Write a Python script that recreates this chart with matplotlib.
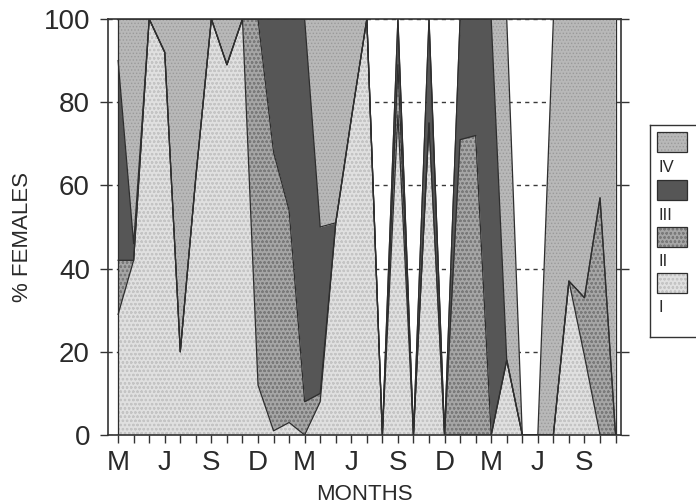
import numpy as np
import matplotlib
matplotlib.use("Agg")
import matplotlib.pyplot as plt
from matplotlib.patches import Rectangle

plt.rcParams['font.family'] = ['Liberation Sans', 'DejaVu Sans']
plt.rcParams['hatch.linewidth'] = 0.6

# Monthly samples, March of the first year to November of the third
months = ['Mar', 'Apr', 'May', 'Jun', 'Jul', 'Aug', 'Sep', 'Oct', 'Nov', 'Dec', 'Jan', 'Feb',
          'Mar', 'Apr', 'May', 'Jun', 'Jul', 'Aug', 'Sep', 'Oct', 'Nov', 'Dec', 'Jan', 'Feb',
          'Mar', 'Apr', 'May', 'Jun', 'Jul', 'Aug', 'Sep', 'Oct', 'Nov']
tick_labels = ['M', 'J', 'S', 'D', 'M', 'J', 'S', 'D', 'M', 'J', 'S']

# Percentage of females in each maturity stage
stage_I = [29, 42, 100, 92, 20, 62, 100, 89, 100, 12, 1, 3, 0, 8, 51, 76, 100,
           0, 77, 0, 75, 0, 0, 0, 0, 18, 0, 0, 0, 37, 19, 0, 0]
stage_II = [13, 0, 0, 0, 0, 0, 0, 0, 0, 88, 67, 51, 8, 2, 0, 0, 0,
            0, 12, 0, 0, 0, 71, 72, 0, 0, 0, 0, 0, 0, 14, 57, 0]
stage_III = [48, 4, 0, 0, 0, 0, 0, 0, 0, 0, 32, 46, 92, 40, 0, 0, 0,
             0, 11, 0, 25, 0, 29, 28, 100, 0, 0, 0, 0, 0, 0, 0, 0]
stage_IV = [10, 54, 0, 8, 80, 38, 0, 11, 0, 0, 0, 0, 0, 50, 49, 24, 0,
            0, 0, 0, 0, 0, 0, 0, 0, 82, 0, 0, 100, 63, 67, 43, 100]
stages = ['I', 'II', 'III', 'IV']

face_colors = ['#e0e0e0', '#a6a6a6', '#565656', '#b8b8b8']
hatch_colors = ['#c4c4c4', '#7a7a7a', '#565656', '#9a9a9a']
hatches = ['oooo', 'oooo', None, '.....']

x = np.arange(len(months))
tops = np.cumsum(np.array([stage_I, stage_II, stage_III, stage_IV], dtype=float), axis=0)

fig = plt.figure(figsize=(6.96, 5.04), dpi=100)
ax = fig.add_axes([108 / 696, 69 / 504, 513 / 696, 416 / 504])

for k in range(len(stages)):
    lower = tops[k - 1] if k > 0 else np.zeros(len(x))
    ax.fill_between(x, lower, tops[k], facecolor=face_colors[k],
                    edgecolor=hatch_colors[k], hatch=hatches[k],
                    linewidth=0, zorder=2)
for k in range(len(stages)):
    ax.plot(x, tops[k], color='#2e2e2e', lw=0.9, zorder=3)
ax.vlines([x[0], x[-1]], 0, [tops[-1][0], tops[-1][-1]], color='#2e2e2e', lw=0.9, zorder=3)

ax.set_xlim(-0.65, 32.35)
ax.set_ylim(0, 100)
ax.set_yticks([0, 20, 40, 60, 80, 100])
ax.set_xticks(x)
ax.set_xticklabels([tick_labels[i // 3] if i % 3 == 0 else '' for i in range(len(x))])

ax.yaxis.grid(True, linestyle=(0, (3, 3)), color='#3a3a3a', lw=1.0)
ax.set_axisbelow(True)
for s in ax.spines.values():
    s.set_color('#333333')
    s.set_linewidth(1.2)

ax.tick_params(axis='x', length=6, width=1, pad=5, labelsize=20, colors='#333333')
ax.tick_params(axis='y', length=6, width=1, pad=7, labelsize=20, colors='#333333', right=True)
for lab in ax.get_xticklabels() + ax.get_yticklabels():
    lab.set_color('#2a2a2a')

fig.text(23 / 696, 1 - 237 / 504, '% FEMALES', rotation=90, ha='center', va='center',
         fontsize=16, color='#2a2a2a')
fig.text((108 + 621) / 2 / 696, 1 - 494 / 504, 'MONTHS', ha='center', va='center',
         fontsize=16, color='#2a2a2a')

# Stage key: each swatch with its stage name beneath it
lg = fig.add_axes([650 / 696, 1 - 337 / 504, 60 / 696, 212 / 504])
lg.set_xlim(0, 60)
lg.set_ylim(212, 0)
lg.set_xticks([])
lg.set_yticks([])
for s in lg.spines.values():
    s.set_color('#333333')
    s.set_linewidth(1.0)
box_tops = [7, 55, 102, 148]
for j, k in enumerate(range(len(stages) - 1, -1, -1)):
    y0 = box_tops[j]
    lg.add_patch(Rectangle((7, y0), 30, 20, facecolor=face_colors[k],
                           edgecolor=hatch_colors[k], hatch=hatches[k], linewidth=0))
    lg.add_patch(Rectangle((7, y0), 30, 20, facecolor='none', edgecolor='#2e2e2e', linewidth=0.9))
    lg.text(8, y0 + 35, stages[k], ha='left', va='center', fontsize=12, color='#2a2a2a')

fig.savefig('out.png', dpi=100)
